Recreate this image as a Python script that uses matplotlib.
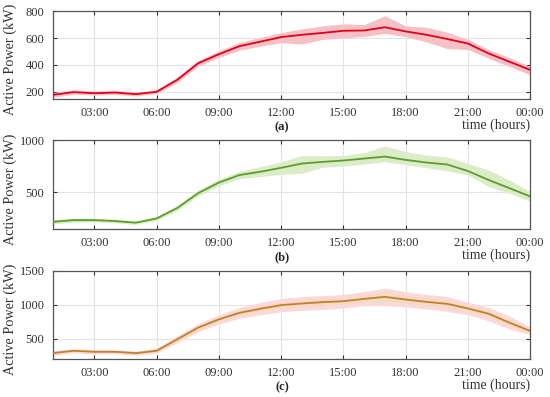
import matplotlib.pyplot as plt

# hours 01:00 .. 24:00 (00:00)
hours = list(range(1, 25))

# (a) red
a_mean = [178, 198, 190, 195, 183, 200, 290, 412, 480, 540, 573, 607,
          624, 638, 654, 656, 680, 649, 624, 593, 559, 485, 424, 363]
a_low = [160, 182, 176, 180, 170, 186, 270, 390, 455, 510, 540, 565,
         555, 590, 602, 612, 634, 610, 571, 522, 515, 449, 388, 327]
a_high = [195, 215, 205, 212, 198, 215, 310, 432, 505, 568, 605, 640,
          668, 690, 705, 700, 766, 690, 680, 643, 590, 515, 455, 388]

# (b) green
b_mean = [215, 231, 231, 222, 206, 247, 348, 490, 592, 665, 696, 734,
          775, 791, 804, 823, 842, 810, 785, 766, 703, 617, 538, 459]
b_low = [195, 212, 213, 205, 190, 228, 325, 462, 560, 630, 650, 670,
         680, 740, 750, 770, 791, 765, 735, 705, 665, 554, 490, 411]
b_high = [235, 250, 250, 240, 222, 266, 372, 518, 625, 700, 745, 790,
          854, 850, 854, 880, 945, 890, 855, 840, 775, 712, 617, 506]

# (c) orange, two bands
c_mean = [285, 320, 305, 305, 285, 320, 490, 661, 783, 880, 939, 993,
          1017, 1037, 1051, 1085, 1115, 1076, 1041, 1012, 944, 866, 734, 612]
c_low = [250, 290, 275, 275, 255, 285, 440, 600, 715, 800, 850, 895,
         915, 930, 950, 985, 985, 965, 935, 900, 850, 760, 640, 560]
c_high = [320, 350, 335, 335, 315, 355, 540, 720, 850, 960, 1030, 1090,
          1120, 1135, 1150, 1190, 1245, 1190, 1150, 1120, 1035, 960, 830, 670]
c_low2 = [265, 305, 290, 290, 270, 300, 465, 630, 750, 840, 895, 945,
          965, 985, 1000, 1035, 1040, 1020, 985, 955, 895, 815, 690, 585]
c_high2 = [305, 335, 320, 320, 300, 340, 515, 690, 815, 920, 985, 1040,
           1065, 1090, 1100, 1140, 1200, 1140, 1100, 1070, 990, 915, 780, 640]

xticks = [3, 6, 9, 12, 15, 18, 21, 24]
xticklabels = ["03:00", "06:00", "09:00", "12:00", "15:00", "18:00", "21:00", "00:00"]

plt.rcParams['font.family'] = ['Liberation Serif', 'DejaVu Serif']
plt.rcParams['font.size'] = 9

fig = plt.figure(figsize=(5.5, 3.97), dpi=100)
fig.patch.set_facecolor("white")

panels = [
    dict(pos=[0.096, 0.751, 0.868, 0.221], ylim=(148, 800), yt=[200, 400, 600, 800],
         mean=a_mean, bands=[(a_low, a_high, '#f6c0c4', 1.0)], color='#e3001b', tag='(a)'),
    dict(pos=[0.096, 0.423, 0.868, 0.224], ylim=(145, 1000), yt=[500, 1000],
         mean=b_mean, bands=[(b_low, b_high, '#dcebc8', 1.0)], color='#5c9e2c', tag='(b)'),
    dict(pos=[0.096, 0.096, 0.868, 0.222], ylim=(200, 1500), yt=[500, 1000, 1500],
         mean=c_mean, bands=[(c_low, c_high, '#fcd8da', 1.0), (c_low2, c_high2, '#f2dcbc', 0.7)],
         color='#c47f2e', tag='(c)'),
]

for p in panels:
    ax = fig.add_axes(p['pos'])
    for lo, hi, col, al in p['bands']:
        ax.fill_between(hours, lo, hi, color=col, alpha=al, linewidth=0, zorder=1)
    ax.plot(hours, p['mean'], color=p['color'], linewidth=1.3, zorder=3)
    ax.set_xlim(1, 24)
    ax.set_ylim(*p['ylim'])
    ax.set_xticks(xticks)
    ax.set_xticklabels(xticklabels)
    ax.set_yticks(p['yt'])
    ax.grid(True, color='#e3e3e3', linewidth=0.8, zorder=0)
    ax.set_axisbelow(True)
    ax.tick_params(direction='in', length=3, width=0.8, top=True, right=True,
                   colors='#333333', labelcolor='#333333', pad=6)
    for s in ax.spines.values():
        s.set_color('#555555')
        s.set_linewidth(0.9)
    ax.set_ylabel("Active Power (kW)", fontsize=10.3, color='#333333')
    ax.yaxis.set_label_coords(-0.075, 0.45)
    ax.text(1.0, -0.30, "time (hours)", transform=ax.transAxes, ha='right', va='center',
            fontsize=10, color='#333333')
    ax.text(0.48, -0.32, p['tag'], transform=ax.transAxes, ha='center', va='center',
            fontsize=9, fontweight='bold', color='#222222')

fig.savefig("out.png", dpi=100)
